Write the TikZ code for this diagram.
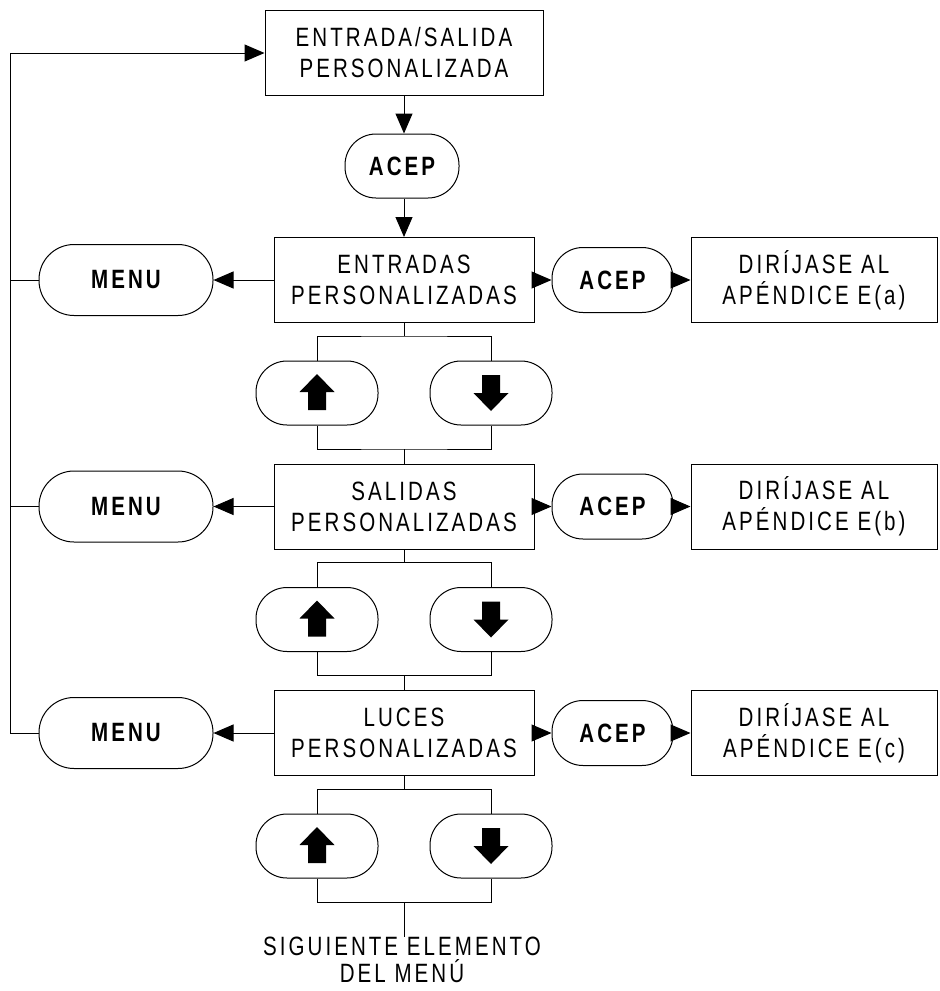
\documentclass[tikz,border=0pt]{standalone}
\usepackage{fontspec}
\setmainfont{Liberation Sans}[FakeStretch=0.775,LetterSpace=11.5]
\usetikzlibrary{arrows.meta}

\tikzset{
  every node/.style={font=\fontsize{26.5}{31}\selectfont, inner sep=0pt, align=center},
  box/.style={draw, line width=1pt, minimum height=85pt},
  key/.style={draw, line width=1pt, rounded corners=31pt, minimum height=64pt,
    font=\fontsize{26.5}{31}\selectfont\bfseries},
  link/.style={line width=1pt},
  arr/.style={link, -{Triangle[length=20pt,width=17pt]}},
  uparrow/.pic={\fill (0,-19) -- (17.5,-1) -- (9,-1) -- (9,17) -- (-9,17) -- (-9,-1) -- (-17.5,-1) -- cycle;},
  downarrow/.pic={\fill (0,18) -- (17.5,0) -- (9,0) -- (9,-18) -- (-9,-18) -- (-9,0) -- (-17.5,0) -- cycle;},
}

\begin{document}
\begin{tikzpicture}[x=1pt,y=-1pt]
\useasboundingbox (0,0) rectangle (940,991);

% entry point and first confirmation
\node[box, minimum width=278pt] (T) at (404,53) {ENTRADA/SALIDA\\PERSONALIZADA};
\node[key, minimum width=114pt] (TA) at (402,166) {ACEP};
\coordinate (rail) at (10,53);

% one row per submenu: box, MENU exit, ACEP branch, up/down keys
\foreach \r/\c/\name/\dl in {0/280/ENTRADAS/a, 1/506.5/SALIDAS/b, 2/733/LUCES/c} {
  \node[box, minimum width=260pt] (B\r) at (404,\c) {\name\\PERSONALIZADAS};
  \node[key, minimum width=174pt, minimum height=71pt, rounded corners=35pt] (M\r) at (126,\c) {MENU};
  \node[key, minimum width=121pt, minimum height=65pt] (K\r) at (612.5,\c) {ACEP};
  \node[box, minimum width=246pt] (D\r) at (814,\c) {DIRÍJASE AL\\APÉNDICE E(\dl)};
  \node[key, minimum width=122pt] (U\r) at (317,\c+113) {};
  \node[key, minimum width=122pt] (W\r) at (491,\c+113) {};
  \pic at (U\r) {uparrow};
  \pic at (W\r) {downarrow};
  \coordinate (J\r) at (404,\c+56);
  \coordinate (Q\r) at (404,\c+169);
  \draw[arr] (B\r.west) -- (M\r.east);
  \draw[arr] (B\r.east) -- (K\r.west);
  \draw[arr] (K\r.east) -- (D\r.west);
  \draw[link] (B\r.south) -- (J\r);
  \draw[link] (U\r.north) |- (J\r) -| (W\r.north);
  \draw[link] (U\r.south) |- (Q\r) -| (W\r.south);
}

\node[font=\fontsize{26.5}{27}\selectfont] (next) at (402,960) {SIGUIENTE ELEMENTO\\DEL MENÚ};

\draw[arr] (T.south) -- (T.south |- TA.north);
\draw[arr] (B0.north |- TA.south) -- (B0.north);
\draw[link] (Q0) -- (B1.north);
\draw[link] (Q1) -- (B2.north);
\draw[link] (Q2) -- (Q2 |- next.north);
\draw[link] (M0.west) -- (M0.west -| rail);
\draw[link] (M1.west) -- (M1.west -| rail);
\draw[arr] (M2.west) -- (M2.west -| rail) -- (rail) -- (T.west);
\end{tikzpicture}
\end{document}
